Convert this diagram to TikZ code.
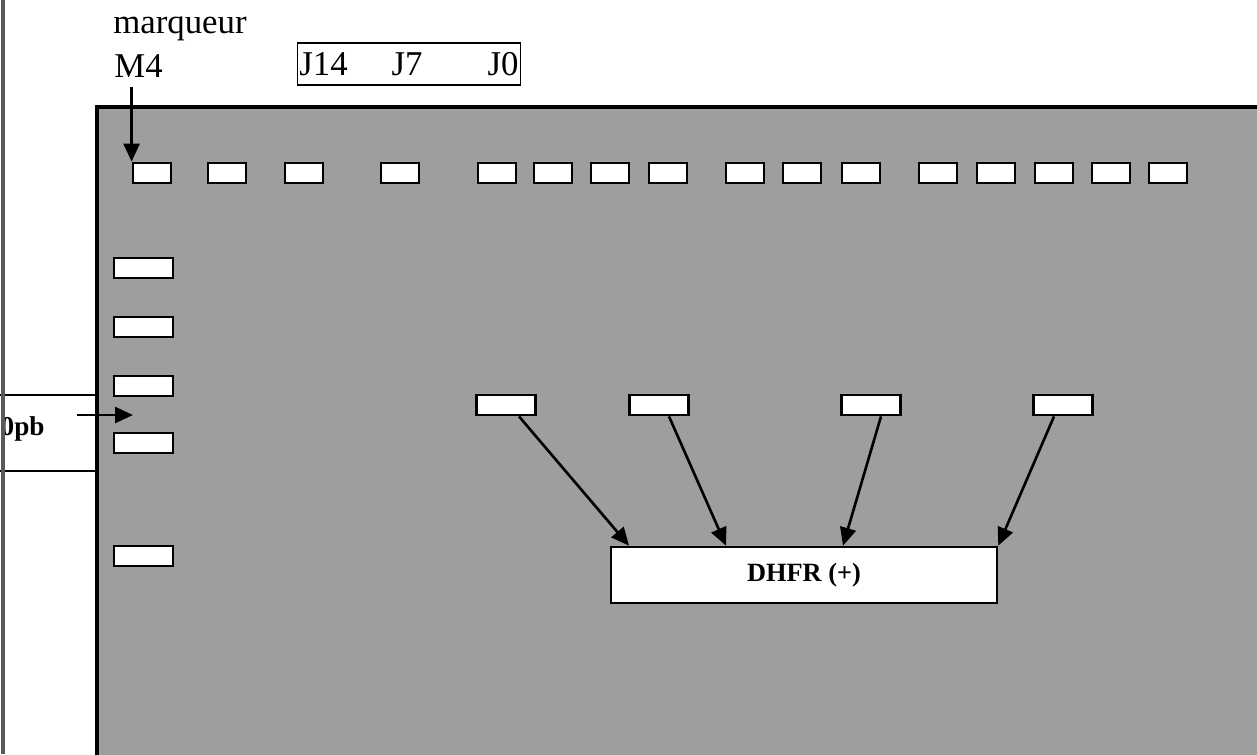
\documentclass[tikz,border=0pt]{standalone}
\usepackage{fontspec}
\setmainfont{Liberation Serif}
\usetikzlibrary{arrows.meta}

\begin{document}
\begin{tikzpicture}[
        x=0.02cm, y=-0.02cm,
        every node/.style={font=\fontsize{19.8}{24}\selectfont},
        gel/.style={draw, line width=2.2pt, fill=black!38},
        well/.style={rectangle, draw, line width=1.6pt, fill=white, inner sep=0pt, minimum width=0.76cm, minimum height=0.4cm},
        band/.style={well, minimum width=1.18cm},
        result/.style={rectangle, draw, line width=1.5pt, fill=white, minimum width=7.72cm, minimum height=1.12cm, font=\fontsize{15}{18}\selectfont\bfseries},
        arrow/.style={-{Triangle[length=0.36cm, width=0.32cm]}, line width=1.5pt}
    ]
        \useasboundingbox (0,0) rectangle (1257,754);
        \clip (0,0) rectangle (1257,754);

        % gel
        \draw[gel] (97,107) rectangle (1290,790);

        % labels above the gel
        \node[anchor=base west, inner sep=0pt] (marq) at (113,33) {marqueur};
        \node[anchor=base west, inner sep=0pt] (m4) at (114,77) {M4};
        \node[draw, line width=0.9pt, inner xsep=1pt, inner ysep=0pt, minimum height=0.84cm] (days) at (409,64)
            {J14\hspace{0.88cm}J7\hspace{1.3cm}J0};

        % wells
        \foreach \x [count=\i] in {152,227,304,400,497,553,610,668,745,802,861,938,996,1054,1111,1168}
            \node[well] (w\i) at (\x,173) {};

        % marker ladder
        \foreach \y [count=\i] in {268,327,386,443,556}
            \node[well, minimum width=1.18cm] (l\i) at (143.5,\y) {};

        % DHFR bands
        \foreach \x [count=\i] in {506,659,871,1063}
            \node[band] (b\i) at (\x,405) {};

        \node[result] (dhfr) at (804,575) {DHFR (+)};

        % size label at the left edge
        \draw[line width=1.3pt] (-10,395) -- (97,395);
        \draw[line width=1.3pt] (-10,471) -- (97,471);
        \node[anchor=base east, inner sep=0pt, font=\fontsize{15.5}{18}\selectfont\bfseries] (pb) at (45,435) {0pb};
        \coordinate (pbtail) at (77,415);
        \coordinate (pbtip) at (133,415);

        % scanned edge
        \draw[black!65, line width=2pt] (3,0) -- (3,754);

        \draw[arrow] (pbtail) -- (pbtip);
        \draw[arrow, shorten <=0.2cm] (w1.north west |- m4.south) -- (w1.north west);
        \draw[arrow] ([xshift=0.26cm]b1.south) -- ([xshift=-3.5cm]dhfr.north);
        \draw[arrow] ([xshift=0.2cm]b2.south) -- ([xshift=-1.56cm]dhfr.north);
        \draw[arrow] ([xshift=0.2cm]b3.south) -- ([xshift=0.78cm]dhfr.north);
        \draw[arrow] ([xshift=-0.18cm]b4.south) -- (dhfr.north east);
    \end{tikzpicture}
\end{document}
